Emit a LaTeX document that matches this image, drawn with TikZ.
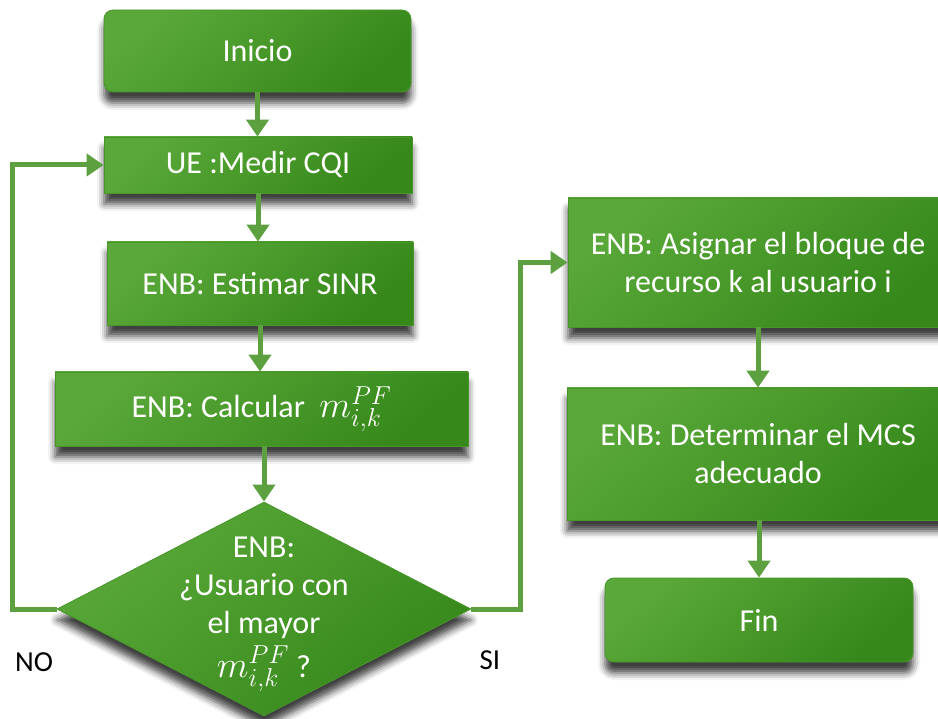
\RequirePackage{fix-cm}
\documentclass[tikz,border=0pt]{standalone}
\usepackage{fontspec}
\setmainfont{Carlito}
\usetikzlibrary{arrows.meta,shapes.geometric,shadows.blur}

\definecolor{boxlight}{RGB}{90,168,58}
\definecolor{boxdark}{RGB}{54,136,26}
\definecolor{boxedge}{RGB}{72,150,42}
\definecolor{flow}{RGB}{92,160,64}

% the metric symbol, set a little larger than the text around it
\newcommand{\pfmetric}{{\fontsize{37}{37}\selectfont$m^{PF}_{i,k}$}}

\tikzset{
  boxfill/.style={top color=boxlight, bottom color=boxdark, shading angle=40,
    draw=boxedge, line width=0.8pt,
    blur shadow={shadow xshift=0pt, shadow yshift=-11pt,
      shadow blur radius=7pt, shadow opacity=75}},
  stepbox/.style={boxfill, rectangle, inner sep=0pt, text=white, align=center,
    font=\fontsize{32}{38}\selectfont},
  termbox/.style={stepbox, rounded corners=9pt},
  decbox/.style={boxfill, diamond, inner sep=0pt},
  dectext/.style={text=white, align=center, font=\fontsize{32}{38}\selectfont},
  flowline/.style={draw=flow, line width=5pt, -{Triangle[width=22pt,length=17pt]}},
  answer/.style={text=black, font=\fontsize{29}{34}\selectfont}
}

\begin{document}
\begin{tikzpicture}[x=1pt, y=-1pt]
  \clip (0,0) rectangle (938,719);

  % left column
  \node[termbox, minimum width=307pt, minimum height=82pt] (ini) at (257.5,51) {Inicio};
  \node[stepbox, minimum width=308pt, minimum height=56pt] (cqi) at (258,165) {UE :Medir CQI};
  \node[stepbox, minimum width=306pt, minimum height=83pt] (sinr) at (260,283.5) {ENB: Estimar SINR};
  \node[stepbox, minimum width=413pt, minimum height=74pt] (calc) at (261.5,409) {ENB: Calcular~ \pfmetric};
  \node[decbox, minimum width=414pt, minimum height=214pt] (dec) at (264,609) {};
  \node[dectext] (dect) at (264,614) {ENB:\\¿Usuario con\\el mayor\\[6pt]\pfmetric\ ?};

  % right column
  \node[stepbox, minimum width=380pt, minimum height=129pt] (asig) at (758,262.5) {ENB: Asignar el bloque de\\recurso k al usuario i};
  \node[stepbox, minimum width=382pt, minimum height=132pt] (det) at (758,454) {ENB: Determinar el MCS\\adecuado};
  \node[termbox, minimum width=308pt, minimum height=84pt] (fin) at (759,620) {Fin};

  % bend points of the loop-back and exit connectors
  \coordinate (loopx) at (12,0);
  \coordinate (exitx) at (520,0);

  % connectors
  \draw[flowline] (ini.south) -- (ini.south |- cqi.north);
  \draw[flowline] (cqi.south) -- (cqi.south |- sinr.north);
  \draw[flowline] (sinr.south) -- (sinr.south |- calc.north);
  \draw[flowline] (dec.north |- calc.south) -- (dec.north);
  \draw[flowline] (dec.west) -- (dec.west -| loopx) |- (cqi.west);
  \draw[flowline] (dec.east) -- (dec.east -| exitx) |- (asig.west);
  \draw[flowline] (asig.south) -- (asig.south |- det.north);
  \draw[flowline] (fin.north |- det.south) -- (fin.north);

  % branch labels
  \node[answer] (no) at (34,662) {NO};
  \node[answer] (si) at (490,660) {SI};
\end{tikzpicture}
\end{document}
